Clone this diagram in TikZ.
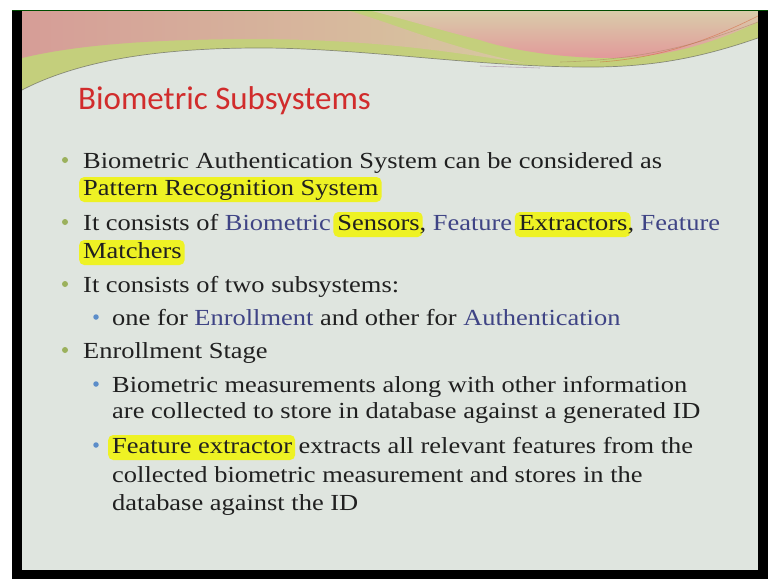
\documentclass[tikz,border=0pt]{standalone}
\usepackage{fontspec}
\setmainfont{Liberation Serif}[FakeStretch=1.15]
\newfontfamily\titlefont{Carlito}
\definecolor{slidebg}{HTML}{DFE5DF}
\definecolor{bodytext}{HTML}{202020}
\definecolor{slideblue}{HTML}{3F4485}
\definecolor{titlered}{HTML}{D12C2C}
\definecolor{hlyellow}{HTML}{EEF224}
\definecolor{bulletgreen}{HTML}{9BB15C}
\definecolor{bulletblue}{HTML}{5B8DC9}
\definecolor{bandgreen}{HTML}{C4CF7C}
\definecolor{bandlight}{HTML}{E4E8DC}
\definecolor{tanpink}{HTML}{D69D97}
\definecolor{tanlight}{HTML}{D7C9A0}
\definecolor{lobetop}{HTML}{D9CCAA}
\definecolor{lobepink}{HTML}{E2999A}
% marker-style highlight behind a word, without changing its width
\newcommand\hlword[1]{\tikz[baseline=(hw.base)]{%
  \node[inner sep=0pt,outer sep=0pt] (hw) {\phantom{#1}};
  \fill[hlyellow,rounded corners=5pt,overlay]
    ([xshift=-4pt,yshift=-7pt]hw.base west) rectangle ([xshift=3pt,yshift=18pt]hw.base east);
  \node[inner sep=0pt,anchor=base] at (hw.base) {#1};}}
\newcommand\bl[1]{\textcolor{slideblue}{#1}}
\begin{document}
\begin{tikzpicture}[x=1pt,y=-1pt,
  txt/.style={anchor=base west,inner sep=0pt,text=bodytext,font=\fontsize{23}{27}\selectfont},
  dotone/.style={fill=bulletgreen,circle,inner sep=0pt,minimum size=6pt},
  dottwo/.style={fill=bulletblue,circle,inner sep=0pt,minimum size=5.5pt}]
\useasboundingbox (0,0) rectangle (768,579);
\fill[white] (0,0) rectangle (768,579);
% screen frame and slide
\fill[black] (12,10) rectangle (768,579);
\fill[slidebg] (22,11) rectangle (758,570);
% header bands
\begin{scope}
\clip (22,11) rectangle (758,570);
\shade[left color=bandgreen,middle color=bandlight,right color=bandgreen]
  (22,11) -- (758,11) -- (758,38)
  .. controls (700,58) and (650,68) .. (580,67)
  .. controls (470,66) and (360,48) .. (260,48)
  .. controls (160,48) and (80,60) .. (22,90) -- cycle;
\shade[left color=tanpink,right color=tanlight]
  (22,11) -- (350,11)
  .. controls (400,26) and (450,48) .. (525,63)
  .. controls (450,52) and (380,40) .. (260,39)
  .. controls (160,39) and (80,44) .. (22,58) -- cycle;
\shade[top color=lobetop,bottom color=lobepink]
  (372,11) -- (758,11) -- (758,22)
  .. controls (720,40) and (670,58) .. (610,58)
  .. controls (560,58) and (510,50) .. (480,40)
  .. controls (440,30) and (400,18) .. (372,11) -- cycle;
\draw[gray!70!black,line width=0.7pt,opacity=0.6]
  (22,90) .. controls (80,60) and (160,48) .. (260,48)
  .. controls (360,48) and (470,66) .. (580,67)
  .. controls (650,68) and (700,58) .. (758,38);
\draw[brown!70!red,line width=0.6pt,opacity=0.5]
  (600,62) .. controls (660,58) and (710,40) .. (758,16);
\draw[brown!60!gray,line width=0.6pt,opacity=0.5]
  (560,62) .. controls (650,60) and (710,40) .. (758,22);
\draw[violet!40!gray,line width=0.6pt,opacity=0.4]
  (480,66) -- (540,68);
\end{scope}
\draw[black!70!green,line width=0.8pt] (12,10.5) -- (768,10.5);
% title
\node[anchor=base west,inner sep=0pt,text=titlered,font=\titlefont\fontsize{33}{33}\selectfont]
  (title) at (78,109) {Biometric Subsystems};
% body lines
\node[txt] (l1) at (83,168) {Biometric Authentication System can be considered as};
\node[txt] (l2) at (83,195) {\hlword{Pattern Recognition System}};
\node[txt] (l3) at (83,230) {It consists of \bl{Biometric} \hlword{Sensors}, \bl{Feature} \hlword{Extractors}, \bl{Feature}};
\node[txt] (l4) at (83,258) {\hlword{Matchers}};
\node[txt] (l5) at (83,292) {It consists of two subsystems:};
\node[txt] (l6) at (112,325) {one for \bl{Enrollment} and other for \bl{Authentication}};
\node[txt] (l7) at (83,358) {Enrollment Stage};
\node[txt] (l8) at (112,392) {Biometric measurements along with other information};
\node[txt] (l9) at (112,418) {are collected to store in database against a generated ID};
\node[txt] (l10) at (112,453) {\hlword{Feature extractor} extracts all relevant features from the};
\node[txt] (l11) at (112,482) {collected biometric measurement and stores in the};
\node[txt] (l12) at (112,510) {database against the ID};
% bullets
\node[dotone] (b1) at ([xshift=-18pt,yshift=8pt]l1.base west) {};
\node[dotone] (b2) at ([xshift=-18pt,yshift=8pt]l3.base west) {};
\node[dotone] (b3) at ([xshift=-18pt,yshift=8pt]l5.base west) {};
\node[dottwo] (b4) at ([xshift=-16pt,yshift=8pt]l6.base west) {};
\node[dotone] (b5) at ([xshift=-18pt,yshift=8pt]l7.base west) {};
\node[dottwo] (b6) at ([xshift=-16pt,yshift=8pt]l8.base west) {};
\node[dottwo] (b7) at ([xshift=-16pt,yshift=8pt]l10.base west) {};
\end{tikzpicture}
\end{document}
